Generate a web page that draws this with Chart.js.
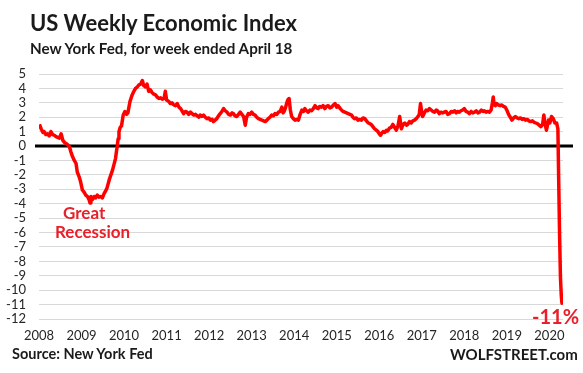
<!DOCTYPE html>
<html>
<head>
<meta charset="utf-8">
<script src="https://cdn.jsdelivr.net/npm/chart.js@4.4.1/dist/chart.umd.min.js"></script>
<style>
  html, body { margin: 0; padding: 0; background: #fff; }
  #wrap { position: relative; width: 583px; height: 373px; font-family: Lato, sans-serif; }
  #canvas { position: absolute; left: 0; top: 0; }
  .t { position: absolute; font-weight: bold; color: #1a1a1a; white-space: nowrap; line-height: 1.2; }
  .red { color: #e8202a; }
</style>
</head>
<body>
<div id="wrap">
  <canvas id="canvas" width="583" height="373"></canvas>
  <div class="t" style="left:30px; top:10px; font-size:22px;">US Weekly Economic Index</div>
  <div class="t" style="left:30px; top:39px; font-size:15.2px;">New York Fed, for week ended April 18</div>
  <div class="t red" style="left:63px; top:203px; font-size:17px;">Great</div>
  <div class="t red" style="left:55px; top:222px; font-size:17px;">Recession</div>
  <div class="t red" style="left:532px; top:304px; font-size:20px;">-11%</div>
  <div class="t" style="left:12px; top:345px; font-size:14.5px;">Source: New York Fed</div>
  <div class="t" style="left:450px; top:345px; font-size:15px;">WOLFSTREET.com</div>
</div>
<script>
// x axis labels and y ticks
var yearLabels = [2008, 2009, 2010, 2011, 2012, 2013, 2014, 2015, 2016, 2017, 2018, 2019, 2020];
var yTicks = [5, 4, 3, 2, 1, 0, -1, -2, -3, -4, -5, -6, -7, -8, -9, -10, -11, -12];

// week (as decimal year)
var weeks = [
  2008.01, 2008.05, 2008.09, 2008.12, 2008.16, 2008.2, 2008.24, 2008.28, 2008.32, 2008.36, 2008.4, 2008.44, 2008.48, 2008.52, 2008.56, 2008.6, 2008.65, 2008.71, 2008.75, 2008.79, 2008.83, 2008.87, 2008.9, 2008.94, 2008.98,
  2009.02, 2009.06, 2009.1, 2009.14, 2009.18, 2009.2, 2009.22, 2009.26, 2009.3, 2009.33, 2009.37, 2009.41, 2009.45, 2009.49, 2009.53, 2009.57, 2009.6, 2009.65, 2009.69, 2009.73, 2009.77, 2009.8, 2009.82, 2009.84, 2009.86, 2009.88, 2009.91, 2009.94, 2009.98,
  2010.02, 2010.06, 2010.09, 2010.12, 2010.14, 2010.19, 2010.23, 2010.27, 2010.31, 2010.35, 2010.39, 2010.43, 2010.46, 2010.5, 2010.54, 2010.58, 2010.62, 2010.66, 2010.7, 2010.74, 2010.78, 2010.82, 2010.86, 2010.9, 2010.94, 2010.97,
  2011.0, 2011.05, 2011.09, 2011.13, 2011.17, 2011.21, 2011.25, 2011.29, 2011.33, 2011.37, 2011.4, 2011.44, 2011.48, 2011.52, 2011.56, 2011.6, 2011.64, 2011.68, 2011.72, 2011.76, 2011.79, 2011.83, 2011.87, 2011.91, 2011.95, 2011.99,
  2012.03, 2012.07, 2012.1, 2012.14, 2012.18, 2012.22, 2012.26, 2012.3, 2012.34, 2012.38, 2012.42, 2012.46, 2012.5, 2012.54, 2012.57, 2012.61, 2012.65, 2012.69, 2012.73, 2012.77, 2012.81, 2012.85, 2012.88, 2012.92, 2012.96,
  2013.0, 2013.04, 2013.08, 2013.12, 2013.16, 2013.2, 2013.24, 2013.28, 2013.32, 2013.36, 2013.39, 2013.43, 2013.47, 2013.51, 2013.55, 2013.59, 2013.63, 2013.67, 2013.71, 2013.74, 2013.77, 2013.8, 2013.82, 2013.85, 2013.88, 2013.91, 2013.94, 2013.98,
  2014.02, 2014.06, 2014.1, 2014.14, 2014.18, 2014.22, 2014.25, 2014.29, 2014.33, 2014.37, 2014.41, 2014.45, 2014.49, 2014.53, 2014.56, 2014.6, 2014.64, 2014.68, 2014.72, 2014.76, 2014.8, 2014.84, 2014.88, 2014.92, 2014.96,
  2015.0, 2015.03, 2015.07, 2015.11, 2015.15, 2015.19, 2015.23, 2015.27, 2015.31, 2015.35, 2015.38, 2015.42, 2015.46, 2015.5, 2015.54, 2015.58, 2015.62, 2015.66, 2015.7, 2015.74, 2015.78, 2015.81, 2015.85, 2015.89, 2015.93, 2015.97,
  2016.0, 2016.03, 2016.06, 2016.09, 2016.13, 2016.17, 2016.2, 2016.24, 2016.28, 2016.32, 2016.36, 2016.4, 2016.44, 2016.48, 2016.52, 2016.56, 2016.6, 2016.64, 2016.67, 2016.71, 2016.75, 2016.79, 2016.83, 2016.87, 2016.91, 2016.94, 2016.97,
  2017.0, 2017.02, 2017.06, 2017.1, 2017.14, 2017.18, 2017.22, 2017.26, 2017.3, 2017.34, 2017.37, 2017.41, 2017.45, 2017.49, 2017.53, 2017.57, 2017.61, 2017.65, 2017.69, 2017.73, 2017.77, 2017.81, 2017.84, 2017.88, 2017.92, 2017.96,
  2018.0, 2018.04, 2018.08, 2018.12, 2018.16, 2018.2, 2018.24, 2018.28, 2018.32, 2018.36, 2018.4, 2018.44, 2018.47, 2018.51, 2018.55, 2018.59, 2018.63, 2018.66, 2018.68, 2018.7, 2018.73, 2018.76, 2018.8, 2018.84, 2018.88, 2018.92, 2018.96,
  2019.0, 2019.04, 2019.08, 2019.12, 2019.16, 2019.2, 2019.24, 2019.28, 2019.32, 2019.36, 2019.4, 2019.44, 2019.48, 2019.52, 2019.56, 2019.6, 2019.64, 2019.68, 2019.72, 2019.76, 2019.8, 2019.84, 2019.87, 2019.9, 2019.93, 2019.96, 2019.98,
  2020.01, 2020.05, 2020.09, 2020.13, 2020.17, 2020.2, 2020.22, 2020.24, 2020.26, 2020.28, 2020.295
];

// weekly economic index, %
var wei = [
  1.5, 1.2, 0.95, 1.0, 0.8, 0.85, 0.7, 1.0, 0.8, 0.75, 0.65, 0.6, 0.55, 0.85, 0.4, 0.25, 0.15, 0.0, -0.4, -0.75, -1.0, -1.2, -1.8, -2.1, -2.5,
  -3.05, -3.2, -3.4, -3.5, -3.75, -3.95, -3.5, -3.7, -3.5, -3.6, -3.4, -3.55, -3.5, -3.6, -3.3, -3.1, -2.9, -2.35, -2.0, -1.65, -1.2, -0.85, -0.4, 0.0, 0.5, 1.0, 1.3, 1.4, 2.15,
  2.4, 2.2, 2.3, 2.8, 3.1, 3.55, 3.8, 4.0, 4.1, 4.25, 4.3, 4.55, 4.2, 4.1, 4.3, 3.8, 3.9, 3.7, 3.6, 3.55, 3.4, 3.3, 3.35, 3.25, 3.3, 3.8,
  3.2, 3.1, 2.95, 3.0, 2.85, 2.8, 2.95, 2.7, 2.6, 2.4, 2.25, 2.4, 2.35, 2.2, 2.35, 2.25, 2.15, 2.2, 2.1, 2.0, 2.15, 2.05, 2.15, 2.0, 1.9, 1.95,
  1.8, 1.85, 1.7, 1.8, 1.9, 2.1, 2.25, 2.4, 2.6, 2.45, 2.35, 2.2, 2.15, 2.3, 2.25, 2.1, 2.05, 2.2, 2.35, 2.2, 2.05, 1.45, 2.0, 2.25, 2.2,
  2.35, 2.2, 2.15, 2.0, 1.9, 1.85, 1.8, 1.75, 1.7, 1.8, 1.9, 2.0, 2.15, 2.1, 2.25, 2.2, 2.35, 2.4, 2.7, 2.3, 2.45, 2.7, 2.95, 3.2, 3.3, 2.5, 2.05, 1.9,
  1.8, 1.85, 1.8, 2.2, 2.5, 2.4, 2.6, 2.45, 2.35, 2.5, 2.45, 2.6, 2.8, 2.65, 2.6, 2.75, 2.7, 2.8, 2.6, 2.75, 2.8, 2.65, 2.7, 2.85, 2.95,
  2.7, 2.8, 2.65, 2.5, 2.4, 2.35, 2.3, 2.25, 2.2, 2.15, 2.0, 1.9, 1.95, 1.8, 1.85, 1.8, 1.95, 1.9, 1.75, 1.6, 1.55, 1.5, 1.35, 1.2, 1.1, 1.0,
  0.85, 0.75, 0.9, 1.0, 0.95, 1.1, 1.05, 1.25, 1.3, 1.5, 1.3, 1.1, 1.4, 2.05, 1.2, 1.5, 1.6, 1.45, 1.5, 1.7, 1.6, 1.75, 1.8, 1.9, 2.05, 2.2, 2.95,
  2.3, 2.05, 2.3, 2.5, 2.45, 2.6, 2.5, 2.4, 2.35, 2.5, 2.45, 2.25, 2.35, 2.3, 2.35, 2.4, 2.2, 2.25, 2.4, 2.35, 2.45, 2.3, 2.4, 2.35, 2.45, 2.5,
  2.6, 2.4, 2.35, 2.25, 2.4, 2.3, 2.35, 2.45, 2.3, 2.35, 2.5, 2.4, 2.45, 2.35, 2.4, 2.35, 2.5, 3.0, 3.4, 2.9, 2.8, 2.95, 2.85, 2.8, 2.85, 2.75, 2.7,
  2.5, 2.2, 2.0, 1.8, 1.95, 2.05, 1.95, 1.9, 1.95, 1.85, 1.9, 1.8, 1.85, 1.75, 1.7, 1.75, 1.65, 1.6, 1.55, 1.45, 1.35, 1.5, 2.15, 1.5, 1.1, 1.5, 1.8,
  1.6, 2.05, 1.9, 1.6, 1.6, 1.2, -2.6, -6.2, -9.1, -10.4, -10.9
];

// thick black line at zero, a bit wider than the plot
var zeroLine = {
  id: 'zeroLine',
  beforeDatasetsDraw: function(chart) {
    var ctx = chart.ctx;
    var y = chart.scales.y.getPixelForValue(0);
    ctx.save();
    ctx.strokeStyle = '#000';
    ctx.lineWidth = 3;
    ctx.beginPath();
    ctx.moveTo(chart.chartArea.left - 4, y);
    ctx.lineTo(chart.chartArea.right + 10, y);
    ctx.stroke();
    ctx.restore();
  }
};

var tickFont = { family: 'Lato', size: 13 };

var ctx = document.getElementById('canvas').getContext('2d');
window.myLine = new Chart(ctx, {
  type: 'line',
  data: {
    datasets: [{
      label: 'WEI',
      data: weeks.map(function(w, i) { return { x: w, y: wei[i] }; }),
      borderColor: '#ff0000',
      borderWidth: 3.5,
      borderJoinStyle: 'round',
      pointRadius: 0,
      tension: 0,
      fill: false
    }]
  },
  options: {
    responsive: false,
    animation: false,
    layout: { padding: { top: 74, right: 20, left: 0, bottom: 0 } },
    plugins: {
      legend: { display: false },
      title: { display: false },
      tooltip: { enabled: false }
    },
    scales: {
      x: {
        type: 'linear',
        min: 2008,
        max: 2020.32,
        grid: { display: false, drawTicks: false },
        border: { display: false },
        afterBuildTicks: function(s) { s.ticks = yearLabels.map(function(v) { return { value: v }; }); },
        afterFit: function(s) { s.height = 54; },
        ticks: {
          padding: 9,
          font: tickFont,
          color: '#262626',
          maxRotation: 0,
          autoSkip: false,
          callback: function(v) { return String(v); }
        }
      },
      y: {
        min: -12,
        max: 5,
        afterBuildTicks: function(s) { s.ticks = yTicks.map(function(v) { return { value: v }; }); },
        afterFit: function(s) { s.width = 39; },
        grid: { color: '#d9d9d9', lineWidth: 1, drawTicks: false },
        border: { display: false },
        ticks: {
          padding: 13,
          font: tickFont,
          color: '#262626',
          autoSkip: false,
          callback: function(v) { return String(v); }
        }
      }
    }
  },
  plugins: [zeroLine]
});
</script>
</body>
</html>
